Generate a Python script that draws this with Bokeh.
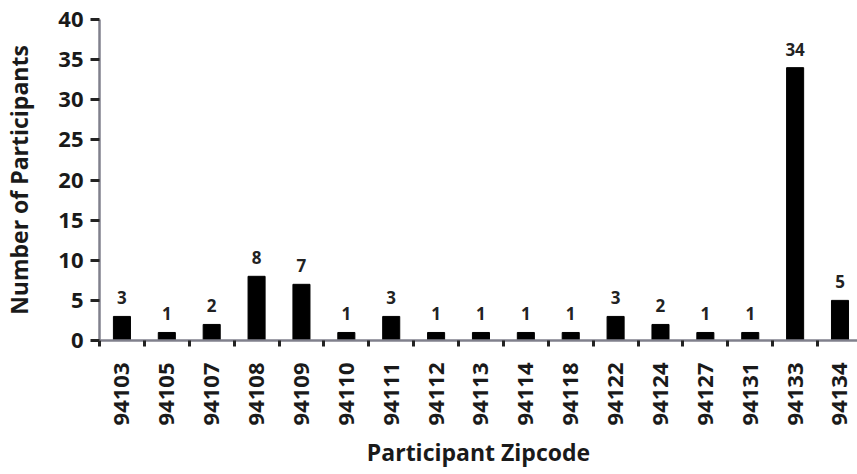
from bokeh.plotting import figure
from bokeh.models import ColumnDataSource, FixedTicker, Range1d
from bokeh.core.properties import value
from bokeh.embed import file_html
from bokeh.resources import INLINE

zipcodes = ["94103", "94105", "94107", "94108", "94109", "94110", "94111", "94112",
            "94113", "94114", "94118", "94122", "94124", "94127", "94131", "94133", "94134"]
counts = [3, 1, 2, 8, 7, 1, 3, 1, 1, 1, 1, 3, 2, 1, 1, 34, 5]
y_ticks = [0, 5, 10, 15, 20, 25, 30, 35, 40]

xpos = [i + 0.5 for i in range(len(zipcodes))]
src = ColumnDataSource(dict(x=xpos, top=counts, label=[str(c) for c in counts]))

FONT = "Open Sans"
AXC = "#80808c"

p = figure(width=857, height=474, output_backend="svg", toolbar_location=None,
           x_range=Range1d(0, 16.89), y_range=Range1d(0, 40),
           min_border_left=97, min_border_right=0, min_border_top=19, min_border_bottom=134)
p.outline_line_color = None
p.xgrid.visible = False
p.ygrid.visible = False

p.vbar(x="x", top="top", width=0.38, bottom=0, source=src, fill_color="black", line_color="black")
p.text(x="x", y="top", text="label", source=src, text_align="center", text_baseline="bottom",
       y_offset=-12, text_font=value(FONT), text_font_size="17px", text_font_style="bold",
       text_color="#222222")

# x axis
p.xaxis.ticker = FixedTicker(ticks=xpos, minor_ticks=list(range(0, len(zipcodes))))
p.xaxis.major_label_overrides = {x: z for x, z in zip(xpos, zipcodes)}
p.xaxis.major_tick_line_color = None
p.xaxis.minor_tick_out = 6
p.xaxis.minor_tick_in = 0
p.xaxis.minor_tick_line_color = "#222222"
p.xaxis.minor_tick_line_width = 3
p.xaxis.major_label_orientation = 1.5708
p.xaxis.major_label_standoff = 16
p.xaxis.axis_label = "Participant Zipcode"
p.xaxis.axis_label_standoff = 8

# y axis
p.yaxis.ticker = FixedTicker(ticks=y_ticks)
p.yaxis.minor_tick_line_color = None
p.yaxis.major_tick_out = 9
p.yaxis.major_tick_in = 0
p.yaxis.major_tick_line_color = "#222222"
p.yaxis.major_tick_line_width = 3
p.yaxis.major_label_standoff = 7
p.yaxis.axis_label = "Number of Participants"
p.yaxis.axis_label_standoff = 20

for ax in (p.xaxis, p.yaxis):
    ax.axis_line_color = AXC
    ax.axis_line_width = 2.5
    ax.major_label_text_font = FONT
    ax.major_label_text_font_style = "bold"
    ax.major_label_text_color = "#1a1a1a"
    ax.axis_label_text_font = FONT
    ax.axis_label_text_font_size = "23px"
    ax.axis_label_text_font_style = "bold"
    ax.axis_label_text_color = "#1a1a1a"
p.xaxis.major_label_text_font_size = "22px"
p.yaxis.major_label_text_font_size = "22px"

open("out.html", "w").write(file_html(p, INLINE))
